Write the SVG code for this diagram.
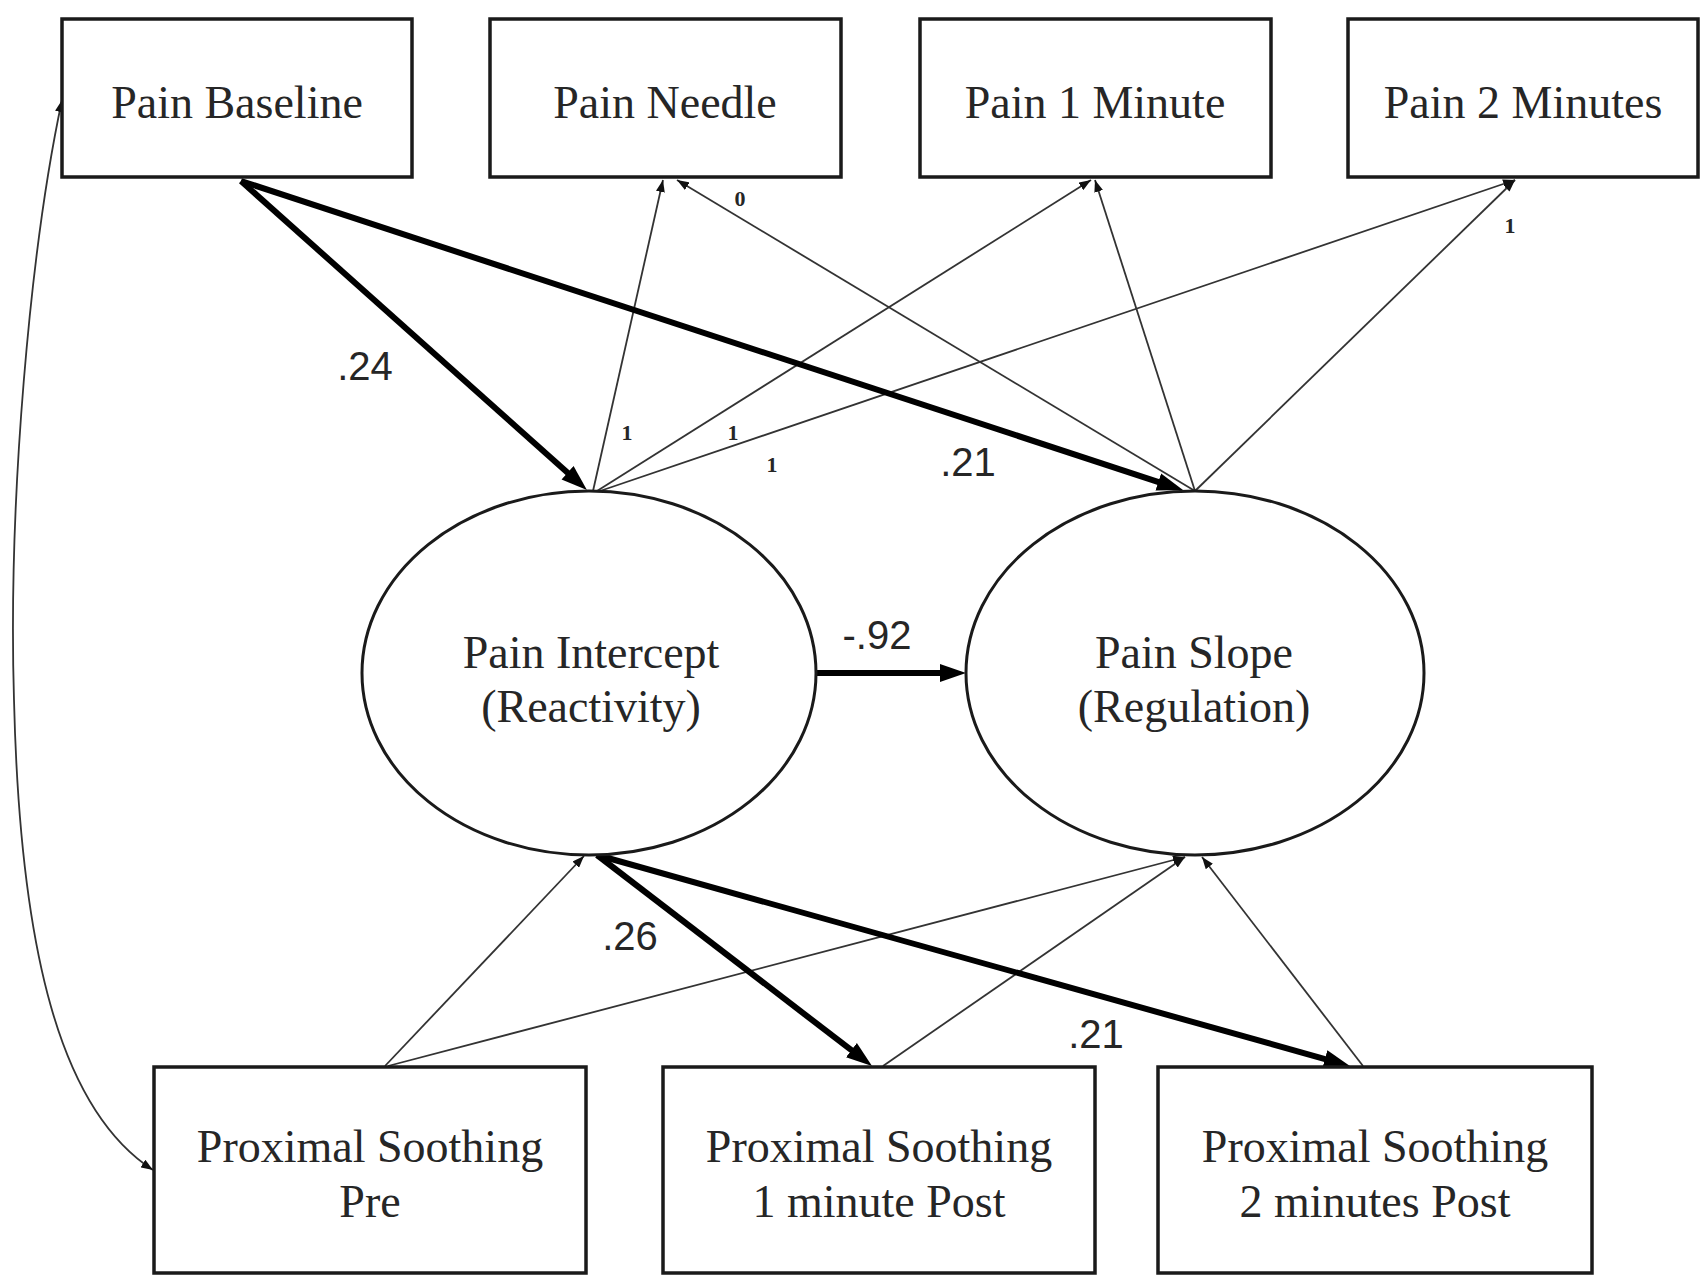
<svg xmlns="http://www.w3.org/2000/svg" width="1701" height="1283" viewBox="0 0 1701 1283">
<style>
.box{fill:#fff;stroke:#1a1a1a;stroke-width:3.5}
.ell{fill:#fff;stroke:#1a1a1a;stroke-width:3}
.lbl{font-family:"Liberation Serif","Times New Roman",serif;font-size:46px;fill:#262626;text-anchor:middle}
.num{font-family:"Liberation Sans",Arial,sans-serif;font-size:40px;fill:#262626;text-anchor:middle}
.sm{font-family:"Liberation Serif","Times New Roman",serif;font-size:22px;font-weight:bold;fill:#262626;text-anchor:middle}
.thick{stroke:#000;stroke-width:6;fill:none;marker-end:url(#ah)}
.thin{stroke:#333;stroke-width:1.8;fill:none;marker-end:url(#as)}
</style>
<defs>
<marker id="ah" markerUnits="userSpaceOnUse" viewBox="0 0 26 20" markerWidth="26" markerHeight="20" refX="14" refY="10" orient="auto">
<path d="M0,1 L26,10 L0,19 z" fill="#000"/>
</marker>
<marker id="as" markerUnits="userSpaceOnUse" viewBox="0 0 12 9" markerWidth="12" markerHeight="9" refX="12" refY="4.5" orient="auto-start-reverse">
<path d="M0,0 L12,4.5 L0,9 z" fill="#111"/>
</marker>
</defs>
<rect width="1701" height="1283" fill="#fff"/>

<g id="connectors">
<path class="thin" d="M62,100 C30,250 8,500 14,700 C20,950 60,1110 153,1170" marker-start="url(#as)"/>
<line class="thin" x1="593" y1="491" x2="663" y2="180"/>
<line class="thin" x1="597" y1="491" x2="1091" y2="180"/>
<line class="thin" x1="600" y1="491" x2="1515" y2="180"/>
<line class="thin" x1="1195" y1="491" x2="677" y2="180"/>
<line class="thin" x1="1195" y1="491" x2="1095" y2="180"/>
<line class="thin" x1="1195" y1="491" x2="1515" y2="180"/>
<line class="thin" x1="385" y1="1066" x2="584" y2="856"/>
<line class="thin" x1="388" y1="1066" x2="1185" y2="857"/>
<line class="thin" x1="883" y1="1066" x2="1185" y2="857"/>
<line class="thin" x1="1363" y1="1066" x2="1202" y2="857"/>
<line class="thick" x1="241" y1="181" x2="578" y2="482"/>
<line class="thick" x1="241" y1="181" x2="1171.6" y2="486.3"/>
<line class="thick" x1="816" y1="673" x2="954" y2="673"/>
<line class="thick" x1="597" y1="855" x2="862.5" y2="1058.7"/>
<line class="thick" x1="597" y1="855" x2="1338.4" y2="1062.8"/>
<text class="num" x="365" y="380">.24</text>
<text class="num" x="968" y="476">.21</text>
<text class="num" x="877" y="649">-.92</text>
<text class="num" x="630" y="950">.26</text>
<text class="num" x="1096" y="1048">.21</text>
<text class="sm" x="740" y="206">0</text>
<text class="sm" x="627" y="440">1</text>
<text class="sm" x="733" y="440">1</text>
<text class="sm" x="772" y="472">1</text>
<text class="sm" x="1510" y="233">1</text>
</g>

<g id="pain-baseline">
<rect class="box" x="62" y="19" width="350" height="158"/>
<text class="lbl" x="237" y="118">Pain Baseline</text>
</g>
<g id="pain-needle">
<rect class="box" x="490" y="19" width="351" height="158"/>
<text class="lbl" x="665" y="118">Pain Needle</text>
</g>
<g id="pain-1-minute">
<rect class="box" x="920" y="19" width="351" height="158"/>
<text class="lbl" x="1095" y="118">Pain 1 Minute</text>
</g>
<g id="pain-2-minutes">
<rect class="box" x="1348" y="19" width="350" height="158"/>
<text class="lbl" x="1523" y="118">Pain 2 Minutes</text>
</g>

<g id="pain-intercept">
<ellipse class="ell" cx="589" cy="673" rx="227" ry="182"/>
<text class="lbl" x="591" y="668">Pain Intercept</text>
<text class="lbl" x="591" y="722">(Reactivity)</text>
</g>
<g id="pain-slope">
<ellipse class="ell" cx="1195" cy="673" rx="229" ry="182"/>
<text class="lbl" x="1194" y="668">Pain Slope</text>
<text class="lbl" x="1194" y="722">(Regulation)</text>
</g>

<g id="ps-pre">
<rect class="box" x="154" y="1067" width="432" height="206"/>
<text class="lbl" x="370" y="1162">Proximal Soothing</text>
<text class="lbl" x="370" y="1217">Pre</text>
</g>
<g id="ps-1min">
<rect class="box" x="663" y="1067" width="432" height="206"/>
<text class="lbl" x="879" y="1162">Proximal Soothing</text>
<text class="lbl" x="879" y="1217">1 minute Post</text>
</g>
<g id="ps-2min">
<rect class="box" x="1158" y="1067" width="434" height="206"/>
<text class="lbl" x="1375" y="1162">Proximal Soothing</text>
<text class="lbl" x="1375" y="1217">2 minutes Post</text>
</g>
</svg>
